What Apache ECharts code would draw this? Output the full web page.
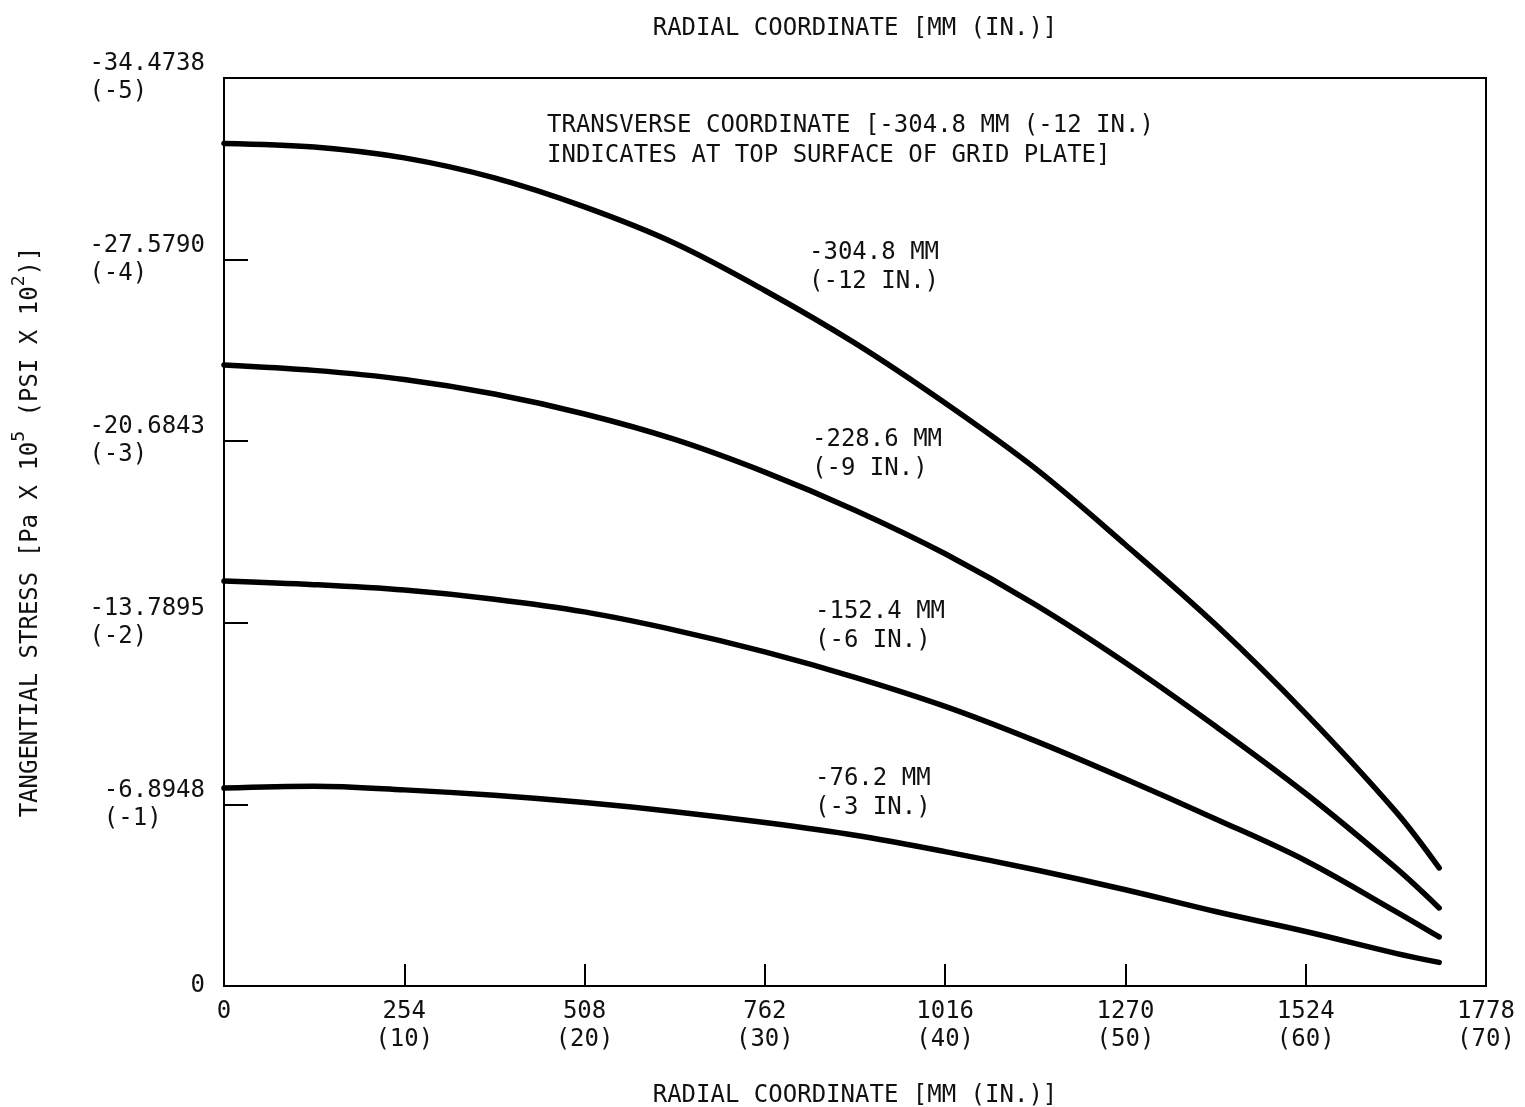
<!DOCTYPE html>
<html>
<head>
<meta charset="utf-8">
<script src="https://cdn.jsdelivr.net/npm/echarts@6/dist/echarts.min.js"></script>
<style>
  html, body { margin: 0; padding: 0; background: #fff; }
  #chart { width: 1525px; height: 1107px; }
</style>
</head>
<body>
<div id="chart"></div>
<script>
// radial coordinate, mm
const radialMM = [0, 127, 254, 381, 508, 635, 762, 889, 1016, 1143, 1270, 1397, 1524, 1651, 1712]

// tangential stress, psi x 10^2
const stress12in = [-4.64, -4.62, -4.56, -4.45, -4.29, -4.09, -3.83, -3.54, -3.21, -2.85, -2.43, -1.99, -1.50, -0.96, -0.65]
const stress9in  = [-3.42, -3.39, -3.34, -3.26, -3.15, -3.01, -2.83, -2.62, -2.38, -2.10, -1.78, -1.43, -1.06, -0.65, -0.43]
const stress6in  = [-2.23, -2.21, -2.18, -2.13, -2.06, -1.96, -1.84, -1.70, -1.54, -1.35, -1.14, -0.92, -0.69, -0.41, -0.27]
const stress3in  = [-1.09, -1.10, -1.08, -1.05, -1.01, -0.96, -0.90, -0.83, -0.74, -0.64, -0.53, -0.41, -0.30, -0.18, -0.13]

// tick labels
const yTicks = [-5, -4, -3, -2, -1, 0]
const yPaLabels = ['-34.4738', '-27.5790', '-20.6843', '-13.7895', '-6.8948', '0']
const yPsiLabels = ['(-5)', '(-4)', '(-3)', '(-2)', '(-1)', '']
const xTicks = [0, 254, 508, 762, 1016, 1270, 1524, 1778]
const xInLabels = ['', '(10)', '(20)', '(30)', '(40)', '(50)', '(60)', '(70)']

const FONT = '"DejaVu Sans Mono", monospace'
const INK = '#111'

const curveLabels = [
  ['-304.8 MM', '(-12 IN.)', 809, 238],
  ['-228.6 MM', '(-9 IN.)', 812, 425],
  ['-152.4 MM', '(-6 IN.)', 815, 597],
  ['-76.2 MM', '(-3 IN.)', 815, 764]
]

const chart = echarts.init(document.getElementById('chart'))

function makeSeries(name, values) {
  return {
    name,
    type: 'line',
    data: radialMM.map((x, i) => [x, values[i]]),
    smooth: 0.35,
    showSymbol: false,
    lineStyle: { color: '#000', width: 5.5, cap: 'round', join: 'round' },
    silent: true
  }
}

const option = {
  backgroundColor: '#fff',
  animation: false,
  grid: {
    left: 224,
    right: 39,
    top: 78,
    bottom: 121,
    show: true,
    borderColor: '#000',
    borderWidth: 2,
    containLabel: false,
    outerBoundsMode: 'none'
  },
  xAxis: [
    {
      type: 'value',
      min: 0,
      max: 1778,
      interval: 254,
      axisLine: { show: true, lineStyle: { color: '#000', width: 2 } },
      axisTick: { show: true, inside: true, length: 22, lineStyle: { color: '#000', width: 2 } },
      splitLine: { show: false },
      axisLabel: {
        color: INK,
        fontFamily: FONT,
        fontSize: 24,
        lineHeight: 28,
        margin: 12,
        formatter: (v) => {
          const i = xTicks.indexOf(v)
          if (i < 0) return ''
          return xInLabels[i] ? v + '\n' + xInLabels[i] : String(v)
        }
      },
      name: 'RADIAL COORDINATE [MM (IN.)]',
      nameLocation: 'middle',
      nameGap: 98,
      nameTextStyle: { color: INK, fontFamily: FONT, fontSize: 24 }
    },
    {
      type: 'value',
      position: 'top',
      min: 0,
      max: 1778,
      axisLine: { show: false },
      axisTick: { show: false },
      axisLabel: { show: false },
      splitLine: { show: false },
      name: 'RADIAL COORDINATE [MM (IN.)]',
      nameLocation: 'middle',
      nameGap: 37,
      nameTextStyle: { color: INK, fontFamily: FONT, fontSize: 24 }
    }
  ],
  yAxis: {
    type: 'value',
    min: -5,
    max: 0,
    interval: 1,
    inverse: true,
    axisLine: { show: true, lineStyle: { color: '#000', width: 2 } },
    axisTick: { show: true, inside: true, length: 24, lineStyle: { color: '#000', width: 2 } },
    splitLine: { show: false },
    axisLabel: {
      color: INK,
      fontFamily: FONT,
      fontSize: 24,
      lineHeight: 28,
      margin: 19,
      formatter: (v) => {
        const i = yTicks.indexOf(Math.round(v))
        if (i < 0) return ''
        const pa = yPaLabels[i]
        const psi = yPsiLabels[i]
        return psi ? pa + '\n' + psi.padEnd(pa.length, ' ') : pa
      }
    },
    name: '{n|TANGENTIAL STRESS [Pa X 10}{s|5}{n| (PSI X 10}{s|2}{n|)]}',
    nameLocation: 'middle',
    nameGap: 172,
    nameTextStyle: {
      color: INK,
      rich: {
        n: { fontFamily: FONT, fontSize: 24, lineHeight: 42, color: INK },
        s: { fontFamily: FONT, fontSize: 18, lineHeight: 18, verticalAlign: 'top', color: INK }
      }
    }
  },
  graphic: [
    {
      type: 'text',
      left: 547,
      top: 111,
      style: {
        text: 'TRANSVERSE COORDINATE [-304.8 MM (-12 IN.)\nINDICATES AT TOP SURFACE OF GRID PLATE]',
        font: '24px ' + FONT,
        fill: INK,
        lineHeight: 30
      }
    },
    ...curveLabels.map(([a, b, left, top]) => ({
      type: 'text',
      left,
      top,
      style: { text: a + '\n' + b, font: '24px ' + FONT, fill: INK, lineHeight: 29 }
    }))
  ],
  series: [
    makeSeries('-304.8 MM', stress12in),
    makeSeries('-228.6 MM', stress9in),
    makeSeries('-152.4 MM', stress6in),
    makeSeries('-76.2 MM', stress3in)
  ]
}

chart.setOption(option)
</script>
</body>
</html>
